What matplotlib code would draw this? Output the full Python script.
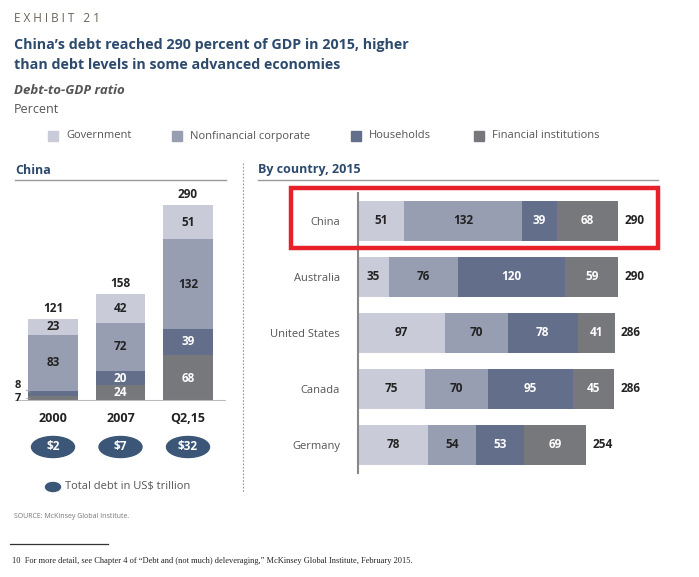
import numpy as np
import matplotlib
matplotlib.use("Agg")
import matplotlib.pyplot as plt
from matplotlib.patches import Ellipse, Rectangle
from matplotlib.transforms import blended_transform_factory
from matplotlib.lines import Line2D

plt.rcParams['font.family'] = ['Open Sans', 'DejaVu Sans']

# ---- data ----
segments = ["Government", "Nonfinancial corporate", "Households", "Financial institutions"]
colors = ["#c9cbd8", "#989eb2", "#636e8b", "#77787c"]
text_colors = ["#222222", "#222222", "white", "white"]

years = ["2000", "2007", "Q2,15"]
china_gov = [23, 42, 51]
china_nonfin = [83, 72, 132]
china_hh = [8, 20, 39]
china_fin = [7, 24, 68]
china_total = [121, 158, 290]
china_usd = ["$2", "$7", "$32"]

countries = ["China", "Australia", "United States", "Canada", "Germany"]
c_gov = [51, 35, 97, 75, 78]
c_nonfin = [132, 76, 70, 70, 54]
c_hh = [39, 120, 78, 95, 53]
c_fin = [68, 59, 41, 45, 69]
c_total = [290, 290, 286, 286, 254]

W, H = 699, 577
fig = plt.figure(figsize=(W / 100, H / 100), dpi=100)

def fx(px):
    return px / W

def fy(py):
    return 1 - py / H

blue = "#2d4a6d"
grey = "#555555"

# ---- header text ----
fig.text(fx(14), fy(18), "E X H I B I T   2 1", fontsize=8.5, color="#6b6258", va="center")
fig.text(fx(14), fy(45), "China\u2019s debt reached 290 percent of GDP in 2015, higher",
         fontsize=10.3, weight="bold", color=blue, va="center")
fig.text(fx(14), fy(65), "than debt levels in some advanced economies",
         fontsize=10.3, weight="bold", color=blue, va="center")
fig.text(fx(14), fy(91), "Debt-to-GDP ratio", fontsize=9.5, weight="bold", style="italic",
         color="#555555", va="center")
fig.text(fx(14), fy(110), "Percent", fontsize=9, color=grey, va="center")

# legend
leg_x = [48, 172, 351, 474]
for lx, name, col in zip(leg_x, segments, colors):
    fig.patches.append(Rectangle((fx(lx), fy(141)), fx(10), 10 / H, color=col,
                                 transform=fig.transFigure, figure=fig))
    fig.text(fx(lx + 18), fy(136), name, fontsize=8, color=grey, va="center")

# section headers
fig.text(fx(15), fy(170), "China", fontsize=9, weight="bold", color=blue, va="center")
fig.lines.append(Line2D([fx(15), fx(226)], [fy(180), fy(180)], color="#999999", lw=1,
                        transform=fig.transFigure))
fig.text(fx(258), fy(170), "By country, 2015", fontsize=9, weight="bold", color=blue, va="center")
fig.lines.append(Line2D([fx(258), fx(658)], [fy(180), fy(180)], color="#999999", lw=1,
                        transform=fig.transFigure))
fig.lines.append(Line2D([fx(243), fx(243)], [fy(163), fy(492)], color="#999999", lw=0.8,
                        ls=(0, (1.5, 1.5)), transform=fig.transFigure))

# ---- left chart: China over time ----
axL = fig.add_axes([fx(15), fy(401), fx(226) - fx(15), (401 - 205) / H])
axL.set_xlim(-0.563, 2.563)
axL.set_ylim(0, 290)
axL.axis("off")
x = np.arange(len(years))
stack = [china_fin, china_hh, china_nonfin, china_gov]
stack_cols = [colors[3], colors[2], colors[1], colors[0]]
stack_txt = [text_colors[3], text_colors[2], text_colors[1], text_colors[0]]
bottom = np.zeros(len(years))
for vals, col, tc in zip(stack, stack_cols, stack_txt):
    vals = np.array(vals, dtype=float)
    axL.bar(x, vals, width=0.74, bottom=bottom, color=col, linewidth=0)
    for i, v in enumerate(vals):
        if v >= 15:
            axL.text(x[i], bottom[i] + v / 2, f"{int(v)}", ha="center", va="center",
                     fontsize=8.5, weight="bold", color=tc)
    bottom += vals
axL.axhline(0, color="#bbbbbb", lw=1.5, xmin=0, xmax=1)
for i, t in enumerate(china_total):
    axL.text(x[i], t + 6, str(t), ha="center", va="bottom", fontsize=8.5,
             weight="bold", color="#222222")

# small labels for the 2000 bar
axL.annotate("8", xy=(x[0] - 0.3, china_fin[0] + china_hh[0] / 2), xytext=(-0.52, 23),
             fontsize=8, weight="bold", color="#222222", ha="center", va="center",
             arrowprops=dict(arrowstyle="-", color="#999999", lw=0.6))
axL.annotate("7", xy=(x[0] - 0.3, china_fin[0] / 2), xytext=(-0.52, 4),
             fontsize=8, weight="bold", color="#222222", ha="center", va="center",
             arrowprops=dict(arrowstyle="-", color="#999999", lw=0.6))

trL = blended_transform_factory(axL.transData, fig.transFigure)
for i, (yr, usd) in enumerate(zip(years, china_usd)):
    axL.text(x[i], fy(419), yr, transform=trL, ha="center", va="center",
             fontsize=9, weight="bold", color="#222222")
    axL.add_patch(Ellipse((x[i], fy(447)), 43 / 67.5, 21 / H, transform=trL,
                          color="#3b5677", clip_on=False))
    axL.text(x[i], fy(447), usd, transform=trL, ha="center", va="center",
             fontsize=8.5, weight="bold", color="white")

fig.patches.append(Ellipse((fx(53), fy(487)), 15 / W, 9 / H, color="#3b5677",
                           transform=fig.transFigure, figure=fig))
fig.text(fx(65), fy(487), "Total debt in US$ trillion", fontsize=8, color=grey, va="center")

# ---- right chart: by country ----
axR = fig.add_axes([fx(358), fy(473), fx(658) - fx(358), (473 - 193) / H])
axR.set_xlim(0, 300 / 0.897)
axR.set_ylim(len(countries) - 0.5, -0.5)
for s in ["top", "right", "bottom"]:
    axR.spines[s].set_visible(False)
axR.spines["left"].set_color("#888888")
axR.spines["left"].set_linewidth(1.5)
axR.set_xticks([])
axR.set_yticks(range(len(countries)))
axR.set_yticklabels(countries, fontsize=8, color=grey)
axR.tick_params(axis="y", length=0, pad=13)

yc = np.arange(len(countries))
left = np.zeros(len(countries))
for vals, col, tc in zip([c_gov, c_nonfin, c_hh, c_fin], colors, text_colors):
    vals = np.array(vals, dtype=float)
    axR.barh(yc, vals, left=left, height=0.73, color=col, linewidth=0)
    for i, v in enumerate(vals):
        axR.text(left[i] + v / 2, yc[i], f"{int(v)}", ha="center", va="center",
                 fontsize=8.5, weight="bold", color=tc)
    left += vals
for i, t in enumerate(c_total):
    axR.text(t + 7, yc[i], str(t), ha="left", va="center", fontsize=8.5,
             weight="bold", color="#222222")

# highlight box around China
fig.patches.append(Rectangle((fx(291), fy(248)), fx(658 - 291), (248 - 188) / H,
                             fill=False, edgecolor="#e8202a", lw=3.2,
                             transform=fig.transFigure, figure=fig))

# ---- footer ----
fig.text(fx(14), fy(517), "SOURCE: McKinsey Global Institute.", fontsize=5, color="#777777",
         va="center")
fig.lines.append(Line2D([fx(10), fx(108)], [fy(544), fy(544)], color="#333333", lw=0.9,
                        transform=fig.transFigure))
fig.text(fx(12), fy(561),
         "10  For more detail, see Chapter 4 of \u201cDebt and (not much) deleveraging,\u201d "
         "McKinsey Global Institute, February 2015.",
         fontsize=6, family=["Liberation Serif", "DejaVu Serif"], color="#222222", va="center")

fig.savefig("out.png", dpi=100)
